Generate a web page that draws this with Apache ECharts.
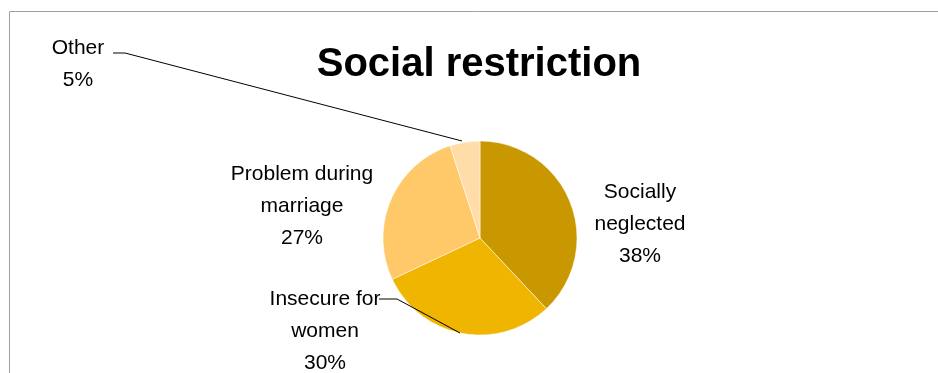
<!DOCTYPE html>
<html>
<head>
<meta charset="utf-8">
<script src="https://cdn.jsdelivr.net/npm/echarts@6/dist/echarts.min.js"></script>
<style>
  html, body { margin: 0; padding: 0; background: #fff; }
  #main { width: 938px; height: 373px; }
</style>
</head>
<body>
<div id="main"></div>
<script>
const categories = ['Socially neglected', 'Insecure for women', 'Problem during marriage', 'Other']
const labelText = ['Socially\nneglected', 'Insecure for\nwomen', 'Problem during\nmarriage', 'Other']
const values = [38, 30, 27, 5]
const colors = ['#C99800', '#F0B500', '#FFC96A', '#FFDCA8']

// where each label block sits (center) and its leader line, if any
const labelSpots = [
  { x: 640, y: 224, line: null },
  { x: 325, y: 331, line: [[460, 333], [397, 299], [379, 299]] },
  { x: 302, y: 206, line: null },
  { x: 78, y: 64, line: [[462, 141], [125, 53], [113, 53]] }
]

let chart = echarts.init(document.getElementById('main'))

let pieData = []
for (let i = 0; i < categories.length; i++) {
  pieData.push({
    name: categories[i],
    value: values[i],
    itemStyle: { color: colors[i] }
  })
}

// leader lines drawn on top of the slices (the pie's own ones end up under them)
let leaders = []
labelSpots.forEach(s => {
  if (!s.line) return
  leaders.push({
    type: 'polyline',
    z: 100,
    silent: true,
    shape: { points: s.line },
    style: { stroke: '#000', lineWidth: 1, fill: null }
  })
})

chart.setOption({
  animation: false,
  title: {
    text: 'Social restriction',
    left: 474,
    top: 40,
    textAlign: 'center',
    textStyle: {
      fontFamily: 'Liberation Sans',
      fontWeight: 'bold',
      fontSize: 40,
      color: '#000'
    }
  },
  graphic: [
    {
      type: 'rect',
      shape: { x: 9.5, y: 11.5, width: 1200, height: 600 },
      style: { fill: null, stroke: '#A0A0A0', lineWidth: 1 },
      silent: true
    }
  ].concat(leaders),
  series: [
    {
      type: 'pie',
      center: [480, 238],
      radius: 97,
      startAngle: 90,
      clockwise: true,
      data: pieData,
      itemStyle: { borderColor: '#fff', borderWidth: 0.5 },
      label: {
        show: true,
        fontFamily: 'Liberation Sans',
        fontSize: 21,
        lineHeight: 32,
        color: '#000',
        align: 'center',
        formatter: p => labelText[p.dataIndex] + '\n' + p.percent.toFixed(0) + '%'
      },
      labelLine: { show: false },
      labelLayout: function (params) {
        let s = labelSpots[params.dataIndex]
        return { x: s.x, y: s.y, align: 'center', verticalAlign: 'middle' }
      }
    }
  ]
})
</script>
</body>
</html>
